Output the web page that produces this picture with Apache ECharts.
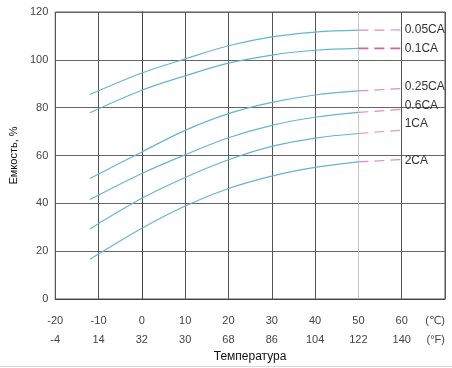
<!DOCTYPE html>
<html><head><meta charset="utf-8">
<script src="https://cdn.jsdelivr.net/npm/echarts@6/dist/echarts.min.js"></script>
<style>html,body{margin:0;padding:0;background:#fff}#c{width:452px;height:368px}</style>
</head><body><div id="c"></div>
<script>
// Data
var tempC = [-12, 0, 10, 20, 30, 40, 50];
var extC = [50, 60];
var seriesNames = ['0.05CA', '0.1CA', '0.25CA', '0.6CA', '1CA', '2CA'];
var cap005 = [85.5, 94.5, 100.4, 105.9, 109.6, 111.6, 112.4];
var cap01  = [77.9, 87.3, 93.3, 98.6, 102.0, 104.0, 104.8];
var cap025 = [50.4, 61.5, 70.5, 77.5, 82.2, 85.3, 87.0];
var cap06  = [41.6, 52.5, 60.3, 67.4, 72.6, 76.0, 78.0];
var cap1   = [29.3, 42.1, 50.8, 58.2, 63.8, 67.3, 69.2];
var cap2   = [16.6, 29.6, 38.9, 46.2, 51.4, 55.0, 57.3];
var ext005 = [112.4, 112.5];
var ext01  = [104.8, 104.8];
var ext025 = [87.0, 88.0];
var ext06  = [78.0, 79.3];
var ext1   = [69.2, 70.6];
var ext2   = [57.3, 58.3];
var xTicksC = [-20, -10, 0, 10, 20, 30, 40, 50, 60, 70];
var xLabelsC = ['-20', '-10', '0', '10', '20', '30', '40', '50', '60', '(\u2103)'];
var xLabelsF = ['-4', '14', '32', '30', '68', '86', '104', '122', '140', '(\u00b0F)'];

var solid = [cap005, cap01, cap025, cap06, cap1, cap2];
var ext = [ext005, ext01, ext025, ext06, ext1, ext2];
var labelOffsets = [[0, 0], [0, 0], [0, -2], [0, -4], [0, -6], [0, 1]];
var FONT = "'Liberation Sans', 'DejaVu Sans', sans-serif";

var series = [];
solid.forEach(function (arr, i) {
  series.push({
    type: 'line', smooth: 0.35, showSymbol: false, silent: true,
    data: tempC.map(function (t, k) { return [t, arr[k]]; }),
    lineStyle: { color: '#62b6d4', width: 1.2 }
  });
});
ext.forEach(function (arr, i) {
  series.push({
    type: 'line', name: seriesNames[i], showSymbol: false, silent: true,
    data: extC.map(function (t, k) { return [t, arr[k]]; }),
    lineStyle: { color: i === 1 ? '#d9609c' : '#e48bb8', width: i === 1 ? 1.8 : 1.2, type: [10, 6] },
    endLabel: {
      show: true, formatter: seriesNames[i], distance: 3,
      offset: labelOffsets[i], color: '#333', fontSize: 12, fontFamily: FONT
    }
  });
});

var chart = echarts.init(document.getElementById('c'));
chart.setOption({
  animation: false,
  grid: { left: 54, top: 12, right: 7, bottom: 67, show: true, borderColor: '#555', borderWidth: 1 },
  xAxis: {
    type: 'value', min: -20, max: 70, interval: 10,
    name: 'Температура', nameLocation: 'middle', nameGap: 52,
    nameTextStyle: { color: '#111', fontSize: 12, fontFamily: FONT },
    axisLine: { show: true, lineStyle: { color: '#444' } },
    axisTick: { show: false },
    axisLabel: {
      color: '#444', fontFamily: FONT, margin: 12, alignMaxLabel: 'right',
      formatter: function (v) {
        var i = xTicksC.indexOf(v);
        if (i < 0) return '';
        return '{a|' + xLabelsC[i] + '}\n{b|' + xLabelsF[i] + '}';
      },
      rich: {
        a: { fontSize: 11, color: '#444', fontFamily: FONT, lineHeight: 19 },
        b: { fontSize: 11, color: '#444', fontFamily: FONT, lineHeight: 19 }
      }
    },
    splitLine: { show: true, lineStyle: { color: ['#555', '#555', '#555', '#555', '#555', '#555', '#555', '#c8c8c8', '#555', '#555'], width: 1 } }
  },
  yAxis: {
    type: 'value', min: 0, max: 120, interval: 20,
    name: 'Емкость, %', nameLocation: 'middle', nameGap: 36,
    nameTextStyle: { color: '#111', fontSize: 11, fontFamily: FONT },
    axisLine: { show: true, lineStyle: { color: '#444' } },
    axisTick: { show: false },
    axisLabel: { color: '#444', fontSize: 11, fontFamily: FONT, margin: 7 },
    splitLine: { show: true, lineStyle: { color: '#666', width: 1 } }
  },
  graphic: [{
    type: 'line', shape: { x1: 0, y1: 366.5, x2: 452, y2: 366.5 },
    style: { stroke: '#d8d8d8', lineWidth: 1 }, silent: true
  }],
  series: series
});
</script></body></html>
